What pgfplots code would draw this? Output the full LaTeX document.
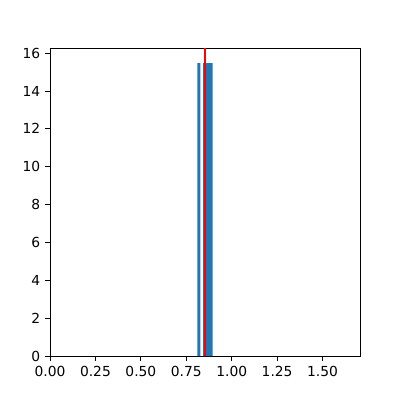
\documentclass[border=0pt]{standalone}
\usepackage{pgfplots}
\pgfplotsset{compat=1.18}
\usepackage{fontspec}
\setmainfont{DejaVu Sans}
\definecolor{mplblue}{HTML}{1F77B4}
\begin{document}
\begin{tikzpicture}[x=1pt,y=1pt]
\pgfmathsetmacro{\px}{0.7227}
\path[use as bounding box] (-50*\px,-44*\px) rectangle (350*\px,356*\px);
\begin{axis}[
  at={(0,0)}, anchor=south west,
  scale only axis,
  width=224.04pt, height=222.6pt,
  xmin=0, xmax=1.706, ymin=0, ymax=16.27,
  xtick={0,0.25,0.5,0.75,1,1.25,1.5},
  xticklabels={0.00,0.25,0.50,0.75,1.00,1.25,1.50},
  ytick={0,2,4,6,8,10,12,14,16},
  tick align=outside, tick pos=left,
  major tick length=3.5pt,
  tick style={black, line width=0.6pt},
  axis line style={line width=0.6pt},
  /pgf/number format/assume math mode=true,
  ticklabel style={font=\fontsize{10}{12}\selectfont},
  axis on top=false,
]
\addplot[fill=mplblue, draw=none, ybar interval] coordinates {
  (0.8108,15.47) (0.8274,0) (0.8423,15.47) (0.8952,15.47)
};
\addplot[red, line width=1.5pt] coordinates {(0.8533,0) (0.8533,16.27)};
\end{axis}
\end{tikzpicture}
\end{document}
